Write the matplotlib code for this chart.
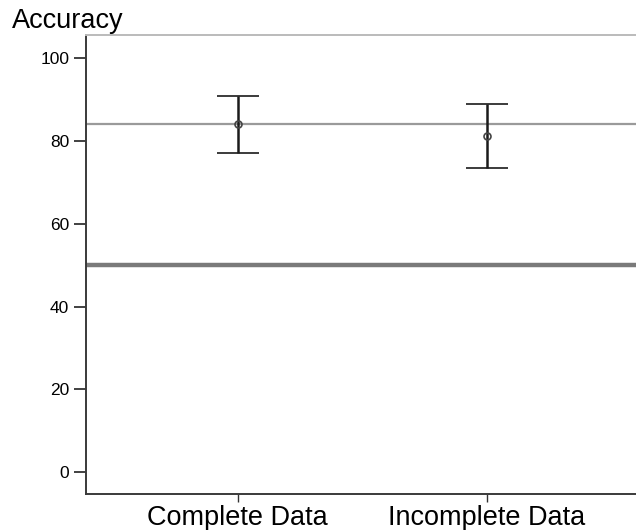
import matplotlib
matplotlib.use('Agg')
import matplotlib.pyplot as plt

plt.rcParams['font.family'] = ['Liberation Sans', 'DejaVu Sans']

# data
groups = ['Complete Data', 'Incomplete Data']
means = [84.0, 81.2]
upper = [90.9, 89.0]
lower = [77.0, 73.5]
ref_line = 84.2
chance_line = 50.0
yticks = [0, 20, 40, 60, 80, 100]

fig = plt.figure(figsize=(6.36, 5.3), dpi=100)
ax = fig.add_axes([86 / 636, 36 / 530, 1 - 86 / 636, (494 - 35) / 530])

xs = list(range(len(groups)))
err_lo = [m - l for m, l in zip(means, lower)]
err_hi = [u - m for m, u in zip(means, upper)]
ax.errorbar(xs, means, yerr=[err_lo, err_hi], fmt='o', mfc='none', mec='#444444',
            ms=5, mew=1.2, ecolor='#1a1a1a', elinewidth=1.8, capsize=14.8,
            capthick=1.8, zorder=3)

ax.axhline(ref_line, color='#9a9a9a', lw=1.6, zorder=2)
ax.axhline(chance_line, color='#7a7a7a', lw=3.2, zorder=2)

ax.set_xlim(-0.61, 1.6)
ax.set_ylim(-5.3, 105.6)
ax.set_xticks(xs)
ax.set_xticklabels(groups, fontsize=19.5)
ax.set_yticks(yticks)
ax.set_yticklabels([str(v) for v in yticks], fontsize=12.5)

ax.tick_params(axis='y', length=9, width=1.3, color='#333333', pad=3)
ax.tick_params(axis='x', length=6, width=1.0, color='#333333', pad=2)

for side in ['left', 'bottom']:
    ax.spines[side].set_color('#3a3a3a')
    ax.spines[side].set_linewidth(1.4)
ax.spines['top'].set_color('#bbbbbb')
ax.spines['top'].set_linewidth(1.4)
ax.spines['right'].set_visible(False)

fig.text(12 / 636, 1 - 28 / 530, 'Accuracy', fontsize=19.5, ha='left', va='baseline')

fig.savefig('out.png', dpi=100)
